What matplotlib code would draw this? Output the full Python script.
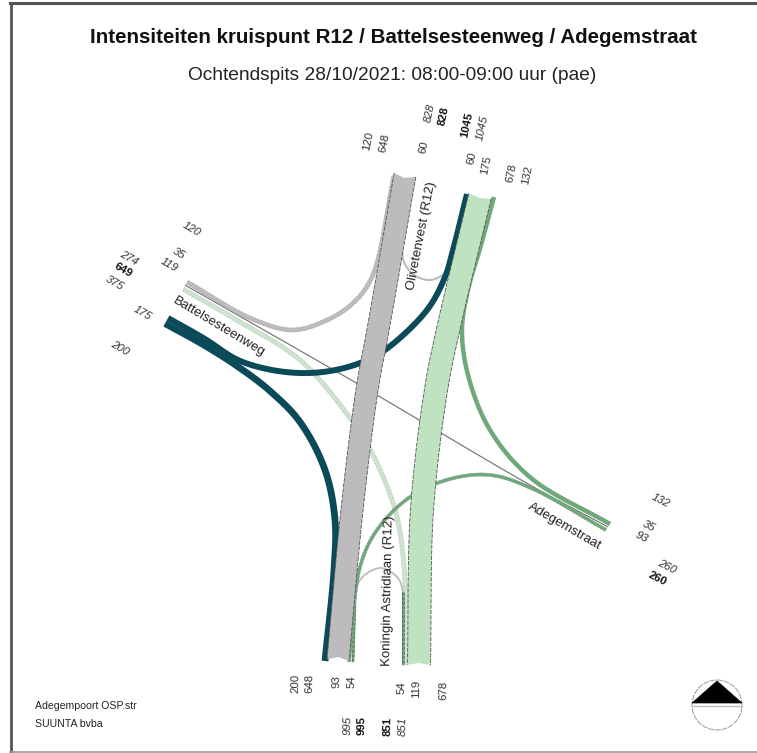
import numpy as np
import matplotlib
matplotlib.use("Agg")
import matplotlib.pyplot as plt
from matplotlib.patches import Polygon, Circle

plt.rcParams['font.family'] = ['Liberation Sans', 'DejaVu Sans']

TITLE = "Intensiteiten kruispunt R12 / Battelsesteenweg / Adegemstraat"
SUBTITLE = "Ochtendspits 28/10/2021: 08:00-09:00 uur (pae)"
FOOTER = ["Adegempoort OSP.str", "SUUNTA bvba"]
ROAD_NAMES = ["Battelsesteenweg", "Olivetenvest (R12)", "Koningin Astridlaan (R12)", "Adegemstraat"]

# turning movements (pae/h)
VOL_W_TO_N = 120
VOL_W_TO_E = 35
VOL_W_TO_S = 119
VOL_N_TO_W = 175
VOL_S_TO_W = 200
VOL_S_TO_N = 648
VOL_N_TO_S = 678
VOL_N_UTURN = 60
VOL_S_UTURN = 54
VOL_E_TO_N = 132
VOL_E_TO_S = 93

# arm totals
ARM_TOTALS = {"N": (828, 1045), "W": (274, 649, 375), "S": (995, 851), "E": (260, 260)}

C_GRAY = "#bdbbbd"
C_TEAL = "#0b4a58"
C_LIGHT = "#bfe2c0"
C_PALE = "#cfe4d0"
C_MID = "#6fa87a"
C_LINE = "#747474"

PX_PER_UNIT = 0.034

fig = plt.figure(figsize=(7.57, 7.53), dpi=100)
ax = fig.add_axes([0, 0, 1, 1])
ax.set_xlim(0, 757)
ax.set_ylim(753, 0)
ax.axis("off")


def spline(pts, n=24):
    """Centripetal Catmull-Rom curve through the way-points."""
    p = np.asarray(pts, float)
    p = np.vstack([2 * p[0] - p[1], p, 2 * p[-1] - p[-2]])
    out = []
    for i in range(1, len(p) - 2):
        p0, p1, p2, p3 = p[i - 1], p[i], p[i + 1], p[i + 2]
        t0 = 0.0
        t1 = t0 + np.linalg.norm(p1 - p0) ** 0.5
        t2 = t1 + np.linalg.norm(p2 - p1) ** 0.5
        t3 = t2 + np.linalg.norm(p3 - p2) ** 0.5
        t = np.linspace(t1, t2, n, endpoint=False)[:, None]
        a1 = (t1 - t) / (t1 - t0) * p0 + (t - t0) / (t1 - t0) * p1
        a2 = (t2 - t) / (t2 - t1) * p1 + (t - t1) / (t2 - t1) * p2
        a3 = (t3 - t) / (t3 - t2) * p2 + (t - t2) / (t3 - t2) * p3
        b1 = (t2 - t) / (t2 - t0) * a1 + (t - t0) / (t2 - t0) * a2
        b2 = (t3 - t) / (t3 - t1) * a2 + (t - t1) / (t3 - t1) * a3
        out.append((t2 - t) / (t2 - t1) * b1 + (t - t1) / (t2 - t1) * b2)
    out.append(p[-2][None])
    return np.vstack(out)


def ribbon(pts, volume, color, z, edge=None, notch=(0.0, 0.0), elw=0.6):
    c = spline(pts)
    d = np.gradient(c, axis=0)
    d /= np.maximum(np.linalg.norm(d, axis=1, keepdims=True), 1e-6)
    nrm = np.column_stack([-d[:, 1], d[:, 0]])
    w = volume * PX_PER_UNIT / 2
    left, right = c + nrm * w, c - nrm * w
    start = c[0] + d[0] * notch[0]
    end = c[-1] - d[-1] * notch[1]
    poly = np.vstack([start, left, end, right[::-1]])
    ax.add_patch(Polygon(poly, closed=True, fc=color, ec="none", zorder=z))
    if edge:
        for side in (left, right):
            ax.plot(side[:, 0], side[:, 1], color=edge, lw=elw, ls=(0, (5, 1.5)), zorder=z + 0.1)


# thin straight-through movement
ribbon([(185, 285), (358, 384), (530, 485), (608, 527)], VOL_W_TO_E, C_LINE, 1)
# Battelsesteenweg movements
ribbon([(187, 282), (250, 318), (292, 330), (325, 321), (352, 304), (372, 277), (394, 176)],
       VOL_W_TO_N, C_GRAY, 2, edge="#a5a5a5", elw=0.4)
ribbon([(183, 289), (240, 322), (300, 360), (350, 418), (372, 453), (397, 517), (406, 600), (406, 665)],
       VOL_W_TO_S, C_PALE, 2, edge="#a9bfab", elw=0.4)
ribbon([(168, 318), (205, 339), (237, 359.5), (267, 369), (300, 373), (330, 371), (360, 363), (385, 350), (427, 310),
        (445, 277), (453, 250), (467, 194)],
       VOL_N_TO_W, C_TEAL, 3)
ribbon([(165, 323.5), (203, 344.5), (237, 366), (270, 391), (300, 422), (325, 470), (335, 520), (334, 570), (325, 661)],
       VOL_S_TO_W, C_TEAL, 3)
# U-turns
ribbon([(402, 250), (404, 262), (414, 275), (430, 280), (444, 274), (453, 262)], VOL_N_UTURN, C_GRAY, 2)
ribbon([(353, 662), (355, 603), (360, 580), (380, 568), (397, 577), (403, 592), (403, 665)],
       VOL_S_UTURN, C_GRAY, 2)
ribbon([(403, 592), (403, 665)], VOL_S_UTURN, C_MID, 2.5, edge="#3f5f45", elw=0.5)
ribbon([(353, 662), (355, 603)], VOL_S_UTURN, C_MID, 2.5, edge="#3f6f49", elw=0.5)
# Adegemstraat movements
ribbon([(494, 197), (481, 245), (468, 290), (462, 330), (468, 375), (490, 430), (531, 478), (610, 524)],
       VOL_E_TO_N, C_MID, 3)
ribbon([(606, 530), (531, 488), (490, 475), (450, 479), (410, 497), (377, 530), (360, 567), (349, 662)],
       VOL_E_TO_S, C_MID, 3, edge="#7f9f87", elw=0.4)
# main through ribbons
ribbon([(405, 175), (378, 330), (367, 390), (352, 510), (338, 660)], VOL_S_TO_N, C_GRAY, 5,
       edge="#555555", notch=(3, 3))
ribbon([(480, 196), (448, 330), (436, 390), (422, 510), (419, 665)], VOL_N_TO_S, C_LIGHT, 5,
       edge="#555555", notch=(2, 2))

# frame
ax.plot([11, 11], [3, 753], color="#555555", lw=2.0, zorder=6)
ax.plot([10, 757], [3, 3], color="#555555", lw=2.2, zorder=6)
ax.plot([10, 757], [752, 752], color="#999999", lw=1.2, zorder=6)

# titles
ax.text(393, 37, TITLE, ha="center", va="center", fontsize=14.8, fontweight="bold", color="#111111")
ax.text(392, 75, SUBTITLE, ha="center", va="center", fontsize=13.75, color="#222222")
ax.text(35, 706, FOOTER[0], ha="left", va="center", fontsize=7.6, color="#222222")
ax.text(35, 724, FOOTER[1], ha="left", va="center", fontsize=7.6, color="#222222")

# road names
for name, x, y, r in zip(ROAD_NAMES, (219, 422, 388, 565), (327, 236, 591, 526), (-31, 79, 89, -30)):
    ax.text(x, y, name, ha="center", va="center", rotation=r, rotation_mode="anchor",
            fontsize=9.5, color="#222222")


def label(v, x, y, r, bold=False, italic=True):
    ax.text(x, y, str(v), ha="center", va="center", rotation=r, rotation_mode="anchor", fontsize=8.2,
            color="#111111" if bold else "#333333", fontweight="bold" if bold else "normal",
            fontstyle="italic" if italic and not bold else "normal")


TOP = 78
# north arm
label(VOL_W_TO_N, 368, 141, TOP, italic=False)
label(VOL_S_TO_N, 384, 143, TOP, italic=False)
label(VOL_N_UTURN, 424, 147, TOP, italic=False)
label(ARM_TOTALS["N"][0], 430, 113, TOP)
label(ARM_TOTALS["N"][0], 444, 116, TOP, bold=True)
label(ARM_TOTALS["N"][1], 467, 125, TOP, bold=True)
label(ARM_TOTALS["N"][1], 482, 128, TOP)
label(VOL_N_UTURN, 472, 158, TOP, italic=False)
label(VOL_N_TO_W, 486, 165, TOP, italic=False)
label(VOL_N_TO_S, 511, 173, TOP, italic=False)
label(VOL_E_TO_N, 527, 175, TOP, italic=False)
# west arm
W = -30
label(VOL_W_TO_N, 191, 229, W)
label(VOL_W_TO_E, 179, 254, W)
label(VOL_W_TO_S, 169, 265, W)
label(ARM_TOTALS["W"][0], 129, 258, W)
label(ARM_TOTALS["W"][1], 123, 270, W, bold=True)
label(ARM_TOTALS["W"][2], 115, 283, W)
label(VOL_N_TO_W, 142, 313, W)
label(VOL_S_TO_W, 120, 348, W)
# south arm
S = 89
label(VOL_S_TO_W, 296, 683, S, italic=False)
label(VOL_S_TO_N, 310, 683, S, italic=False)
label(VOL_E_TO_S, 337, 682, S, italic=False)
label(VOL_S_UTURN, 352, 682, S, italic=False)
label(VOL_S_UTURN, 402, 688, S, italic=False)
label(VOL_W_TO_S, 416, 689, S, italic=False)
label(VOL_N_TO_S, 444, 690, S, italic=False)
label(ARM_TOTALS["S"][0], 348, 725, S)
label(ARM_TOTALS["S"][0], 362, 726, S, bold=True)
label(ARM_TOTALS["S"][1], 388, 726, S, bold=True)
label(ARM_TOTALS["S"][1], 403, 726, S)
# east arm
E = -27
label(VOL_E_TO_N, 661, 501, E)
label(VOL_W_TO_E, 649, 526, E)
label(VOL_E_TO_S, 642, 537, E)
label(ARM_TOTALS["E"][0], 667, 567, E)
label(ARM_TOTALS["E"][1], 658, 579, E, bold=True)

# north arrow
ax.add_patch(Circle((717, 705), 25, fc="white", ec="#999999", lw=0.7, ls=(0, (6, 1)), zorder=6))
ax.add_patch(Polygon([(717, 681), (692, 703), (742, 703)], closed=True, fc="black", ec="black", lw=0.5, zorder=7))
ax.plot([692, 742], [705.5, 705.5], color="#bbbbbb", lw=1, zorder=7)

fig.savefig("out.png", dpi=100)
